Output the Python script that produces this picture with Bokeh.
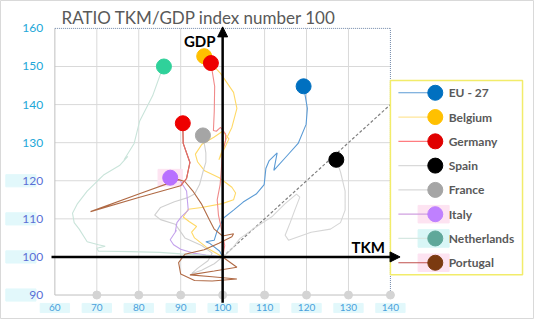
from bokeh.plotting import figure
from bokeh.models import Range1d, Arrow, NormalHead
from bokeh.core.properties import value
from bokeh.embed import file_html
from bokeh.resources import INLINE

# ---------------- data ----------------
title_text = "RATIO TKM/GDP index number 100"
x_ticks = [60, 70, 80, 90, 100, 110, 120, 130, 140]
y_ticks = [90, 100, 110, 120, 130, 140, 150, 160]

eu27_tkm = [100, 99.3, 97, 96, 98, 98.7, 100.3, 102.6, 104.9, 108, 109.9, 110.3, 111.1, 113, 112.2, 115.3, 118, 119.9, 120.2, 119.3]
eu27_gdp = [100, 101.5, 103.5, 104, 104.4, 106.9, 110.3, 112.3, 114.4, 116.5, 119, 123.2, 125.3, 127.3, 122.7, 126.5, 129.8, 134.8, 139, 144.8]

belgium_tkm = [100, 96.8, 93.3, 92.6, 93.8, 92, 90.6, 91.8, 95, 99.9, 102.6, 103.1, 102.2, 99.2, 95.7, 94, 93.5, 95, 98, 100, 101.5, 100, 99.1, 100.7, 102.2, 103.4, 102.6, 99.5, 95.6]
belgium_gdp = [100, 102, 105, 106.5, 108, 109.3, 110.5, 112.5, 113, 114, 115, 116.8, 118.3, 120.8, 122.6, 125, 127, 129.5, 131.5, 133, 131, 127.5, 125.5, 130.6, 134, 139, 143.2, 148.2, 152.7]

germany_tkm = [100, 100.5, 99.8, 99, 98.7, 99.4, 99.7, 99.9, 100.7, 100.7, 99.5, 98.5, 97.8, 98, 98.1, 97.2]
germany_gdp = [100, 103, 107, 111, 115, 119, 123, 127.3, 130.5, 132.3, 134, 133, 133.2, 138.2, 144.8, 150.9]

spain_tkm = [100, 101, 102.5, 104.1, 107.2, 111.9, 114.9, 117.6, 118.4, 117.2, 116.1, 114.9, 115.7, 121.1, 125.7, 128.1, 129.2, 129.2, 128.1, 127.1]
spain_gdp = [100, 100.8, 102.5, 104.8, 107.3, 110.7, 114, 116.5, 115.7, 112.3, 109, 105.7, 104.4, 106.5, 107.3, 109, 112.3, 117.3, 122.3, 125.5]

france_tkm = [100, 98, 95, 92.6, 94, 96.5, 97.5, 95, 91, 88.7, 85.2, 83.8, 85.2, 88.5, 91.5, 93.3, 94.5, 95.3, 96, 96, 95.3]
france_gdp = [100, 98.2, 96.5, 95.6, 97, 99, 101, 103, 105, 108.6, 109.8, 111, 113, 114.5, 115.5, 116.5, 119, 122.3, 124.9, 127.3, 131.9]

italy_tkm = [100, 96, 93, 90, 88.3, 87.5, 89, 88.7, 89.1, 90.2, 91.8, 91.4, 89.9, 87.5]
italy_gdp = [100, 100.5, 101, 102, 103.2, 104.5, 107, 106.5, 109, 110.6, 112.3, 117.3, 120, 120.8]

netherlands_tkm = [100, 95, 90, 85, 78, 72, 70.4, 70, 72, 70.4, 67.7, 65.8, 64.6, 64.2, 65.4, 67.7, 70, 71.6, 75.4, 77.4, 76.5, 78.9, 80.2, 83.3, 85.2, 86.0]
netherlands_gdp = [100, 100.5, 100.8, 101.2, 101.4, 101.5, 101.5, 102.3, 102.8, 103.2, 104, 107.3, 109, 111.5, 114, 117.3, 119.8, 121.5, 124, 126.4, 125.5, 129.8, 135.6, 142.3, 148.1, 150.0]

portugal_tkm = [100, 103.4, 98, 92.2, 97.5, 103.4, 97.5, 93.3, 90, 89.5, 91, 95.6, 99.1, 102.2, 102.6, 100, 98, 96.8, 94.9, 92.9, 91, 89.5, 80, 68.5, 80, 90, 91.4, 92.2, 90.6, 90.5]
portugal_gdp = [100, 97.3, 96.3, 95.3, 94.8, 94.2, 93.7, 93.8, 95.5, 98.5, 100.7, 101.9, 103.6, 105.3, 106.1, 105.5, 107.3, 109.8, 114, 117.3, 119.8, 120.3, 116.5, 111.9, 115.6, 118.7, 120.6, 124.8, 129.8, 135.1]

series_names = ["EU - 27", "Belgium", "Germany", "Spain", "France", "Italy", "Netherlands", "Portugal"]
series_tkm = [eu27_tkm, belgium_tkm, germany_tkm, spain_tkm, france_tkm, italy_tkm, netherlands_tkm, portugal_tkm]
series_gdp = [eu27_gdp, belgium_gdp, germany_gdp, spain_gdp, france_gdp, italy_gdp, netherlands_gdp, portugal_gdp]

# ---------------- styles ----------------
line_colors = ["#5b9bd5", "#ffd966", "#f08a8a", "#d6d6d6", "#d0d0d0", "#c4a2ec", "#c9e4da", "#b06a45"]
marker_colors = ["#0070c0", "#ffc000", "#ee0000", "#000000", "#a5a5a5", "#b870ff", "#2fd19a", "#ee0000"]
legend_marker_colors = ["#0070c0", "#ffc000", "#e00000", "#000000", "#a5a5a5", "#bf80ff", "#5fa89a", "#7b3a10"]
legend_line_colors = ["#5b9bd5", "#ffe699", "#ff7c80", "#d9d9d9", "#d9d9d9", "#d0a0e0", "#d6e8e2", "#c0504d"]

FONT = value("Lato")
W, H = 534, 319

p = figure(width=W, height=H, output_backend="svg", toolbar_location=None,
           x_range=Range1d(60 - 56 / 4.32, 60 + 494 / 4.32),
           y_range=Range1d(160 - 305.7 / 4.0, 160 + 29.3 / 4.0),
           x_axis_type=None, y_axis_type=None, title=None, min_border=0)
p.outline_line_color = "#d9d9d9"
p.background_fill_color = "white"
p.border_fill_color = "white"

xmin, xmax = x_ticks[0], x_ticks[-1]
ymin, ymax = y_ticks[0], y_ticks[-1]

# grid
inner_x = x_ticks[1:-1]
p.segment(x0=inner_x, y0=[ymin] * len(inner_x), x1=inner_x, y1=[ymax] * len(inner_x),
          line_color="#d9d9d9", line_width=1)
inner_y = y_ticks[1:-1]
p.segment(x0=[xmin] * len(inner_y), y0=inner_y, x1=[xmax] * len(inner_y), y1=inner_y,
          line_color="#d9d9d9", line_width=1)
p.segment(x0=[xmin, xmin], y0=[ymin, ymin], x1=[xmin, xmax], y1=[ymax, ymin],
          line_color="#bfbfbf", line_width=1)
p.segment(x0=[xmin, xmax], y0=[ymax, ymin], x1=[xmax, xmax], y1=[ymax, ymax],
          line_color="#6f86a8", line_width=1, line_dash="1 1")

# dots on bottom
p.scatter(x=x_ticks[1:], y=[ymin] * (len(x_ticks) - 1), size=8, color="#d4d4d4")

# diagonal
p.line(x=[100, 140], y=[100, 140], line_color="#808080", line_width=1.2, line_dash="3 2")

# tick label backgrounds
p.rect(x=x_ticks, y=[86.6] * len(x_ticks), width=7, height=2.4, color="#e2f8fb")
low_y = [t for t in y_ticks if t <= 120]
p.rect(x=[51.9] * len(low_y), y=low_y, width=7.2, height=3.2, color="#e2f8fb")

# tick labels
p.text(x=x_ticks, y=[86.6] * len(x_ticks), text=[str(t) for t in x_ticks],
       text_font=FONT, text_font_size="10px", text_color="#4aa0dc",
       text_align="center", text_baseline="middle")
ycols = ["#5a6fd6" if t <= 120 else "#22a7d8" for t in y_ticks]
p.text(x=[57.2] * len(y_ticks), y=y_ticks, text=[str(t) for t in y_ticks],
       text_font=FONT, text_font_size="12px", text_color=ycols,
       text_align="right", text_baseline="middle")

# Italy marker highlight
p.rect(x=[italy_tkm[-1]], y=[italy_gdp[-1]], width=5.8, height=4.4, color="#fde3f1")

# series lines
for tk, gd, lc in zip(series_tkm, series_gdp, line_colors):
    p.line(x=tk, y=gd, line_color=lc, line_width=1.1)
# portugal tail in red
p.line(x=portugal_tkm[-5:], y=portugal_gdp[-5:], line_color="#e86a6a", line_width=1.1)

# end markers
for tk, gd, mc in zip(series_tkm, series_gdp, marker_colors):
    p.scatter(x=[tk[-1]], y=[gd[-1]], size=15, color=mc)

# axes arrows
p.add_layout(Arrow(end=NormalHead(size=10, fill_color="black", line_color="black"),
                   x_start=59.2, y_start=100, x_end=142.3, y_end=100,
                   line_color="black", line_width=2.5))
p.add_layout(Arrow(end=NormalHead(size=10, fill_color="black", line_color="black"),
                   x_start=100, y_start=88.0, x_end=100, y_end=160.4,
                   line_color="black", line_width=2.5))
p.text(x=[98.3], y=[156.8], text=["GDP"], text_font=FONT, text_font_size="15px",
       text_font_style="bold", text_color="black", text_align="right", text_baseline="middle")
p.text(x=[138.7], y=[102.7], text=["TKM"], text_font=FONT, text_font_size="15px",
       text_font_style="bold", text_color="black", text_align="right", text_baseline="middle")

# title
p.text(x=[61.6], y=[162.8], text=[title_text], text_font=FONT, text_font_size="17px",
       text_color="#595959", text_align="left", text_baseline="middle")

# legend (drawn as glyphs)
lg_left, lg_right, lg_top, lg_bottom = 140.0, 171.5, 146.3, 95.3
p.quad(left=[lg_left], right=[lg_right], top=[lg_top], bottom=[lg_bottom],
       fill_color="white", line_color="#f2ec6a", line_width=1.5)
n = len(series_names)
ly = [143.1 - i * 6.375 for i in range(n)]
hl_idx = [5, 6, 7]
hl_col = ["#fde3f1", "#d8f6f6", "#fde3f1"]
p.rect(x=[150.3] * 3, y=[ly[i] for i in hl_idx], width=7.4, height=4.6, color=hl_col)
p.segment(x0=[141.9] * n, y0=ly, x1=[150.7] * n, y1=ly, line_color=legend_line_colors, line_width=1.2)
p.scatter(x=[150.7] * n, y=ly, size=15, color=legend_marker_colors)
p.text(x=[153.9] * n, y=ly, text=series_names, text_font=FONT, text_font_size="12px",
       text_font_style="bold", text_color="#595959", text_align="left", text_baseline="middle")

open("out.html", "w").write(file_html(p, INLINE))
